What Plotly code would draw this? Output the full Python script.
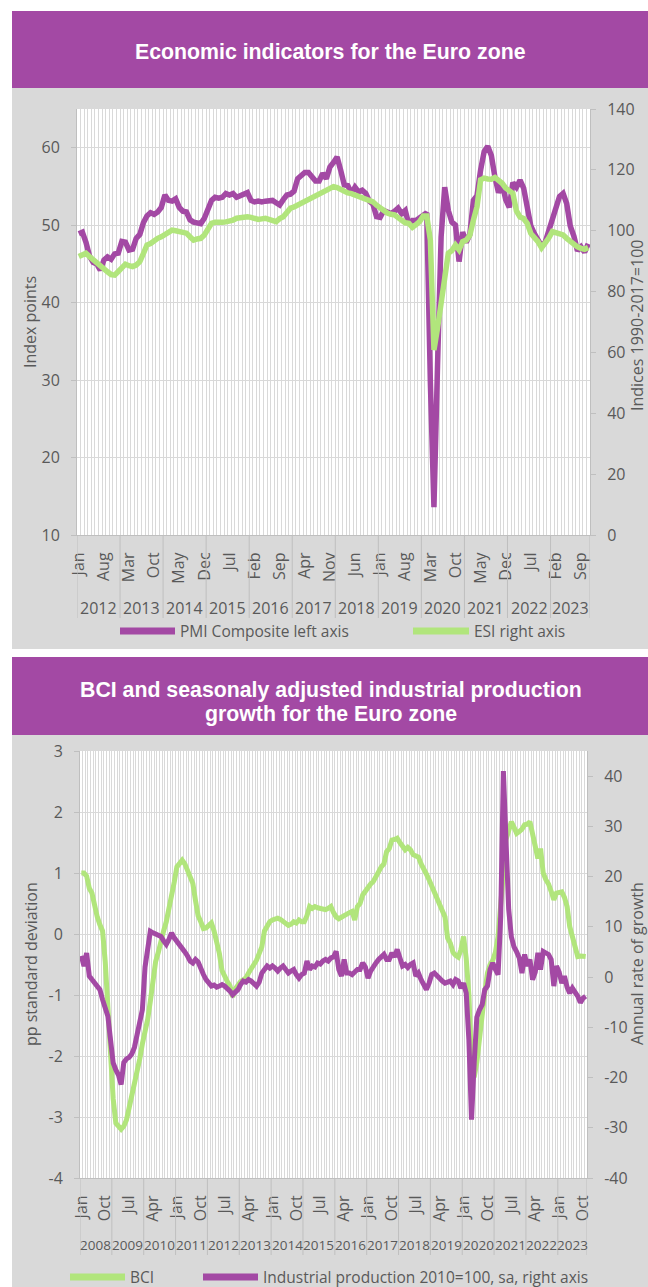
import pandas as pd
import plotly.graph_objects as go

# ---- data: chart 1 (Jan 2012 - Nov 2023, monthly) ----
months1 = pd.date_range("2012-01-01", "2023-11-01", freq="MS")
pmi = [48.9, 49.1, 47.8, 46.0, 45.2, 45.0, 44.2, 45.5, 45.9, 45.6, 46.3, 46.4,
       47.9, 47.8, 46.8, 46.9, 48.3, 48.8, 50.3, 51.2, 51.6, 51.4, 51.7, 52.3,
       53.9, 53.2, 53.1, 53.4, 52.3, 51.8, 51.7, 50.7, 50.4, 50.3, 50.2, 50.9,
       51.9, 53.2, 53.6, 53.5, 53.6, 54.1, 53.9, 54.1, 53.6, 53.8, 54.1, 54.2,
       53.2, 53.0, 53.1, 53.0, 53.1, 53.1, 53.2, 52.9, 52.6, 53.3, 53.9, 54.0,
       54.4, 56.0, 56.4, 56.8, 56.8, 56.3, 55.7, 55.7, 56.7, 56.0, 57.5, 58.1,
       58.8, 57.1, 55.2, 55.1, 54.1, 54.9, 54.3, 54.5, 54.1, 53.1, 52.7, 51.1,
       51.0, 51.9, 51.6, 51.5, 51.8, 52.2, 51.5, 51.9, 50.1, 50.6, 50.6, 50.9,
       51.3, 51.6, 29.7, 13.6, 31.9, 48.5, 54.9, 51.9, 50.4, 50.0, 45.3, 49.1,
       47.8, 48.8, 53.2, 53.8, 57.1, 59.5, 60.2, 59.0, 56.2, 54.2, 55.4, 53.3,
       52.3, 55.5, 54.9, 55.8, 54.8, 52.0, 49.9, 48.9, 48.1, 47.3, 47.8, 49.3,
       50.3, 52.0, 53.7, 54.1, 52.8, 49.9, 48.6, 46.7, 47.2, 46.5, 47.6]
esi = [91.5, 92.0, 92.6, 91.5, 90.4, 89.5, 88.2, 87.3, 86.5, 85.6, 85.4, 86.6,
       88.0, 89.0, 88.5, 88.2, 88.7, 89.8, 92.5, 95.3, 95.8, 96.8, 97.5, 98.0,
       98.8, 99.5, 100.2, 100.0, 99.7, 99.5, 99.2, 98.0, 96.9, 97.3, 97.5, 98.6,
       100.5, 102.4, 102.8, 103.0, 102.8, 102.9, 103.0, 103.5, 104.1, 104.3, 104.5, 104.6,
       104.4, 103.8, 103.7, 103.9, 104.1, 103.7, 103.3, 103.0, 104.0, 104.6, 106.0, 107.4,
       107.8, 108.4, 109.0, 109.5, 110.0, 110.6, 111.0, 111.7, 112.3, 113.0, 113.4, 114.5,
       114.2, 113.5, 112.8, 112.4, 112.2, 111.8, 111.2, 111.0, 110.6, 110.0, 109.5, 108.4,
       107.5, 106.2, 105.8, 105.4, 105.2, 104.3, 103.5, 102.6, 102.4, 101.1, 102.0, 103.0,
       104.8, 104.8, 96.9, 60.8, 68.0, 76.1, 84.9, 92.6, 93.5, 95.3, 93.7, 96.4,
       96.9, 98.5, 103.5, 107.9, 116.7, 117.3, 117.0, 116.9, 117.5, 116.5, 115.6, 114.0,
       113.4, 112.3, 106.5, 104.5, 104.0, 102.4, 99.1, 97.8, 96.4, 94.4, 95.8, 97.6,
       99.7, 99.4, 99.1, 98.6, 97.5, 96.4, 95.3, 94.7, 94.2, 93.9, 94.5]

# ---- data: chart 2 (Jan 2008 - Nov 2023, monthly) ----
months2 = pd.date_range("2008-01-01", "2023-11-01", freq="MS")
bci = [1.0, 1.0, 0.95, 0.75, 0.67, 0.45, 0.28, 0.15, 0.05, -0.45, -1.3, -2.2,
       -2.7, -3.1, -3.15, -3.2, -3.15, -3.05, -2.85, -2.65, -2.45, -2.3, -2.05, -1.8,
       -1.6, -1.4, -1.1, -0.75, -0.45, -0.3, -0.1, 0.05, 0.2, 0.4, 0.6, 0.85,
       1.1, 1.15, 1.21, 1.15, 1.05, 0.97, 0.83, 0.55, 0.3, 0.2, 0.09, 0.1,
       0.15, 0.18, 0.05, -0.1, -0.32, -0.6, -0.72, -0.78, -0.85, -1.03, -0.9, -0.82,
       -0.78, -0.75, -0.72, -0.64, -0.55, -0.5, -0.43, -0.3, -0.21, 0.05, 0.15, 0.2,
       0.23, 0.25, 0.26, 0.24, 0.2, 0.18, 0.14, 0.16, 0.2, 0.18, 0.23, 0.2,
       0.2, 0.3, 0.45, 0.42, 0.45, 0.43, 0.42, 0.4, 0.4, 0.42, 0.45, 0.35,
       0.28, 0.25, 0.28, 0.31, 0.32, 0.35, 0.37, 0.23, 0.45, 0.5, 0.64, 0.7,
       0.78, 0.82, 0.86, 0.95, 1.0, 1.1, 1.15, 1.35, 1.4, 1.54, 1.55, 1.57,
       1.5, 1.42, 1.38, 1.42, 1.38, 1.3, 1.28, 1.26, 1.15, 1.08, 0.98, 0.89,
       0.78, 0.67, 0.55, 0.45, 0.38, 0.28, -0.07, -0.15, -0.3, -0.35, -0.38, -0.26,
       -0.04, -0.4, -1.0, -2.1, -2.35, -2.1, -1.7, -1.2, -0.95, -0.64, -0.5, -0.43,
       -0.3, -0.04, 0.4, 1.0, 1.55, 1.7, 1.84, 1.75, 1.65, 1.68, 1.72, 1.79,
       1.8, 1.84, 1.65, 1.45, 1.24, 1.4, 1.0, 0.89, 0.82, 0.7, 0.56, 0.67,
       0.68, 0.69, 0.6, 0.45, 0.12, -0.05, -0.2, -0.37, -0.36, -0.36, -0.37]
ip = [4.2, 2.2, 4.8, 0.2, -0.5, -1.2, -1.8, -2.5, -4.5, -6.5, -7.8, -12.5,
      -17.1, -18.5, -19.5, -21.4, -17.0, -16.3, -16.0, -15.3, -14.0, -11.5, -9.0, -6.5,
      2.0, 5.0, 9.1, 8.8, 8.5, 8.3, 8.1, 7.2, 6.5, 7.5, 8.8, 7.8,
      7.1, 6.5, 6.1, 5.0, 4.2, 3.2, 2.8, 3.5, 3.0, 1.5, 0.5, -0.5,
      -1.2, -1.8, -1.6, -2.0, -1.8, -1.5, -1.8, -2.2, -2.8, -3.5, -3.0, -2.5,
      -1.5, -0.8, -1.0, -0.5, -0.8, -1.2, -1.8, -1.0, 0.8, 1.5, 2.2, 1.8,
      2.2, 1.8, 1.2, 1.8, 2.2, 1.5, 0.8, 1.2, 1.5, 0.5, -0.2, 0.5,
      0.8, 3.2, 1.5, 2.2, 2.0, 2.8, 2.6, 3.2, 3.5, 3.2, 3.8, 4.0,
      5.1, 1.5, 0.2, 3.5, 0.8, 0.8, 0.5, 1.0, 1.5, 1.5, 2.8, 2.0,
      -0.2, 1.2, 2.2, 2.8, 3.5, 4.0, 4.5, 3.5, 3.5, 4.8, 4.0, 5.5,
      4.0, 2.2, 2.5, 1.9, 2.5, 2.8, 0.2, 0.8, -0.5, -1.5, -2.5, -1.2,
      0.5, 0.8, 0.2, -0.5, -0.8, -1.2, -1.0, -0.8, -1.5, -0.5, -0.8, -2.2,
      -1.2, -3.2, -12.5, -28.4, -17.0, -8.0, -6.5, -5.5, -2.5, -1.8, 1.5, 2.8,
      1.5, 0.5, 12.0, 41.0, 27.0, 13.5, 8.0, 6.0, 5.0, 3.8, 0.8, 4.5,
      2.2, 3.5, -0.5, 1.0, 4.8, 1.5, 5.1, 4.8, 4.5, 3.5, -1.8, 2.2,
      1.0, -1.2, 0.2, -2.0, -3.2, -2.2, -3.0, -3.8, -5.1, -4.2, -3.8]

W, H = 648, 1287
PURPLE = "#A349A4"
GREEN = "#B1E57C"
PANEL = "#D9D9D9"
GRID = "#D9D9D9"
AXIS = "#BFBFBF"
TXT = "#595959"
FONT = "Open Sans"
FS = 16


def px(y):
    return 1 - y / H


def pxx(x):
    return x / W


fig = go.Figure()

x1 = list(range(len(months1)))
x2 = list(range(len(months2)))

fig.add_trace(go.Scatter(x=x1, y=pmi, name="PMI Composite left axis", mode="lines",
                         line=dict(color=PURPLE, width=5.5), xaxis="x", yaxis="y"))
fig.add_trace(go.Scatter(x=x1, y=esi, name="ESI right axis", mode="lines",
                         line=dict(color=GREEN, width=5.5), xaxis="x", yaxis="y2"))
fig.add_trace(go.Scatter(x=x2, y=bci, name="BCI", mode="lines",
                         line=dict(color=GREEN, width=5), xaxis="x2", yaxis="y3"))
fig.add_trace(go.Scatter(x=x2, y=ip, name="Industrial production 2010=100, sa, right axis",
                         mode="lines", line=dict(color=PURPLE, width=5), xaxis="x2", yaxis="y4"))

shapes = []
annotations = []


def note(text, x, y, size=FS, color=TXT, family=FONT, xanchor="center", angle=0, xref="paper"):
    annotations.append(dict(text=text, xref=xref, yref="paper", x=x, y=y,
                            xanchor=xanchor, yanchor="middle", textangle=angle,
                            showarrow=False, font=dict(family=family, size=size, color=color)))


# background panels, title bands, white plot areas
for top, bottom in [(88, 649), (735, H)]:
    shapes.append(dict(type="rect", xref="paper", yref="paper", x0=pxx(12), x1=1,
                       y0=px(bottom), y1=px(top), fillcolor=PANEL, line_width=0, layer="below"))
for top, bottom in [(11, 88), (657, 735)]:
    shapes.append(dict(type="rect", xref="paper", yref="paper", x0=pxx(12), x1=1,
                       y0=px(bottom), y1=px(top), fillcolor=PURPLE, line_width=0, layer="below"))
for l, r, t, b in [(77, 590, 109, 535), (80, 587, 751, 1178)]:
    shapes.append(dict(type="rect", xref="paper", yref="paper", x0=pxx(l), x1=pxx(r),
                       y0=px(b), y1=px(t), fillcolor="white", line_width=0, layer="below"))

# chart titles
note("<b>Economic indicators for the Euro zone</b>", pxx(330), px(52),
     size=21.3, color="white", family="Liberation Sans")
note("<b>BCI and seasonaly adjusted industrial production</b>", pxx(331), px(690),
     size=21.3, color="white", family="Liberation Sans")
note("<b>growth for the Euro zone</b>", pxx(331), px(714),
     size=21.3, color="white", family="Liberation Sans")


def x_axis(months, step, domain, anchor, yaxis_bottom, year_y, div_bottom, xref, year_size):
    n = len(months)
    vals = list(range(0, n, step))
    text = [months[i].strftime("%b") for i in vals]
    ax = dict(domain=domain, anchor=anchor, range=[-0.5, n - 0.5], automargin=False,
              tickmode="array", tickvals=vals, ticktext=text, tickangle=-90,
              tickfont=dict(family=FONT, size=FS, color=TXT), ticks="",
              ticklabelstandoff=10,
              showgrid=False, zeroline=False, showline=True, linecolor=AXIS, linewidth=1,
              minor=dict(tickmode="linear", tick0=-0.5, dtick=1, showgrid=True,
                         gridcolor=GRID, gridwidth=1))
    years = months.year
    bounds = [i - 0.5 for i in range(n) if months[i].month == 1] + [n - 0.5]
    for b in bounds:
        shapes.append(dict(type="line", xref=xref, yref="paper", x0=b, x1=b,
                           y0=px(div_bottom), y1=px(yaxis_bottom), line=dict(color=AXIS, width=1)))
    for yr in sorted(set(years)):
        idx = [i for i in range(n) if years[i] == yr]
        note(str(yr), (idx[0] + idx[-1]) / 2, px(year_y), size=year_size, xref=xref)
    return ax


def y_axis(domain, anchor, rng, vals, side="left", overlay=None, grid=True):
    ax = dict(domain=domain, anchor=anchor, range=rng, tickmode="array", tickvals=vals,
              ticktext=[str(v) for v in vals], side=side, automargin=False,
              tickfont=dict(family=FONT, size=FS, color=TXT),
              showgrid=grid, gridcolor=GRID, gridwidth=1.3, zeroline=False,
              showline=True, linecolor=AXIS, linewidth=1,
              ticks="outside", ticklen=5, tickcolor=AXIS, ticklabelstandoff=8)
    if overlay:
        ax["overlaying"] = overlay
        ax.pop("domain")
    return ax


# chart 1
d1x = [pxx(77), pxx(590)]
d1y = [px(535), px(109)]
xaxis = x_axis(months1, 7, d1x, "y", 535, 608, 618, "x", FS)
yaxis = y_axis(d1y, "x", [10, 65], [10, 20, 30, 40, 50, 60])
yaxis2 = y_axis(d1y, "x", [0, 140], [0, 20, 40, 60, 80, 100, 120, 140], side="right",
                overlay="y", grid=False)

# chart 2
d2x = [pxx(80), pxx(587)]
d2y = [px(1178), px(751)]
xaxis2 = x_axis(months2, 9, d2x, "y3", 1178, 1245, 1255, "x2", 13.5)
yaxis3 = y_axis(d2y, "x2", [-4, 3], [-4, -3, -2, -1, 0, 1, 2, 3])
yaxis4 = y_axis(d2y, "x2", [-40, 45], [-40, -30, -20, -10, 0, 10, 20, 30, 40], side="right",
                overlay="y3", grid=False)

# axis titles
for text, x, y in [("Index points", 30, 322), ("Indices 1990-2017=100", 637, 326),
                   ("pp standard deviation", 31, 964), ("Annual rate of growth", 637, 964)]:
    note(text, pxx(x), px(y), angle=-90)

# legends
for x0, x1, y, color, label in [(120, 175, 631, PURPLE, "PMI Composite left axis"),
                                (413, 469, 631, GREEN, "ESI right axis"),
                                (70, 125, 1277, GREEN, "BCI"),
                                (203, 258, 1277, PURPLE, "Industrial production 2010=100, sa, right axis")]:
    shapes.append(dict(type="line", xref="paper", yref="paper", x0=pxx(x0), x1=pxx(x1),
                       y0=px(y), y1=px(y), line=dict(color=color, width=7)))
    note(label, pxx(x1 + 3), px(y), size=15.5, xanchor="left")

fig.update_layout(
    width=W, height=H, margin=dict(l=0, r=0, t=0, b=0, pad=0, autoexpand=False),
    paper_bgcolor="white", plot_bgcolor="white", showlegend=False,
    xaxis=xaxis, yaxis=yaxis, yaxis2=yaxis2,
    xaxis2=xaxis2, yaxis3=yaxis3, yaxis4=yaxis4,
    shapes=shapes, annotations=annotations,
)

fig.write_html("out.html", config={"displayModeBar": False},
               post_script="document.body.style.margin='0';")
